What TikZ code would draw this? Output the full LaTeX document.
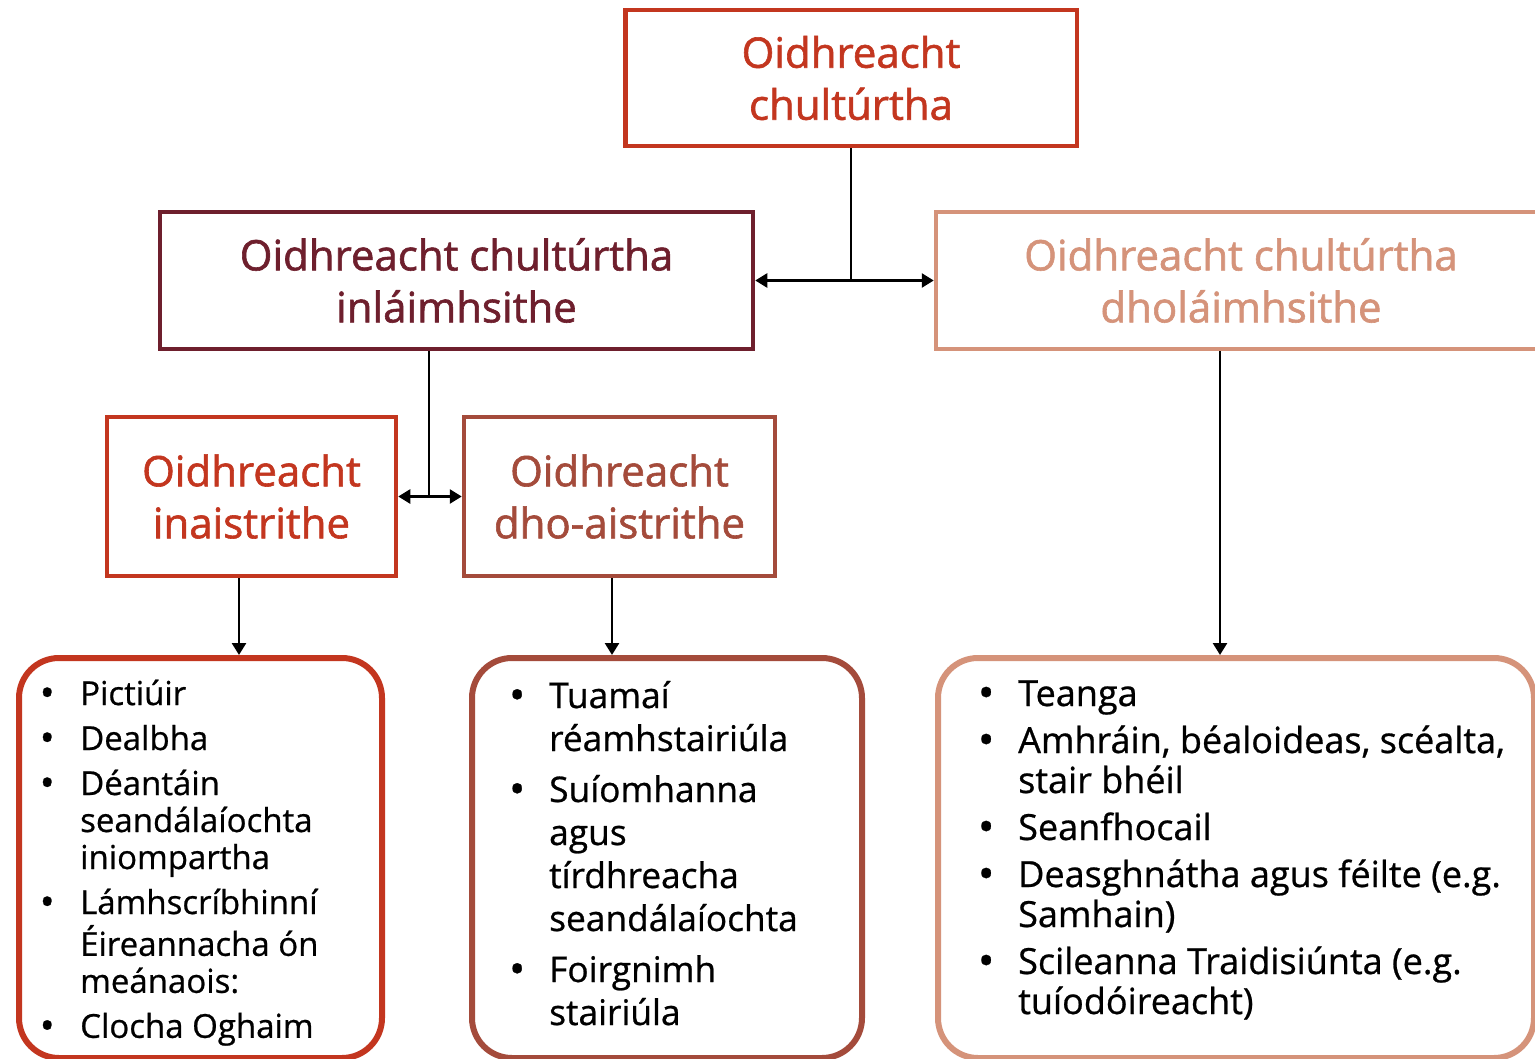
\documentclass[tikz,border=0pt]{standalone}
\usepackage{fontspec}
\usepackage{graphicx}
\setmainfont{Open Sans}
\newfontfamily\headfont{Open Sans}[FakeBold=1.4]
\newfontfamily\bodyfont{Open Sans}[FakeBold=0.7]
\usetikzlibrary{arrows.meta}
\definecolor{cred}{HTML}{C3361F}
\definecolor{cmaroon}{HTML}{6E1F2D}
\definecolor{csalmon}{HTML}{D5937A}
\definecolor{cbrown}{HTML}{A44B3B}
\newcommand\mybul{\makebox[0pt]{\raisebox{-0.05em}{\scalebox{1.2}{\textbullet}}}}
\begin{document}
\begin{tikzpicture}[x=1pt,y=-1pt,
  headbox/.style={draw=#1, text=#1, line width=4.5pt, rectangle, inner sep=0pt,
    align=center, font=\headfont\fontsize{42}{52}\selectfont},
  listbox/.style={draw=#1, line width=6pt, rounded corners=40pt, rectangle, inner sep=0pt},
  listtext/.style={anchor=base west, inner sep=0pt, text=black},
  conn/.style={line width=2.6pt, black},
  tip/.style={-{Triangle[length=12pt,width=14pt]}},
  bothtips/.style={{Triangle[length=12pt,width=14pt]}-{Triangle[length=12pt,width=14pt]}}]
\useasboundingbox (0,0) rectangle (1535,1059);
\fill[white] (0,0) rectangle (1535,1059);

\node[headbox=cred, minimum width=451.5pt, minimum height=136pt] (top) at (851,78) {Oidhreacht\\chultúrtha};
\node[headbox=cmaroon, minimum width=593pt, minimum height=137pt] (midL) at (456.5,280.5) {Oidhreacht chultúrtha\\inláimhsithe};
\node[headbox=csalmon, minimum width=610pt, minimum height=137pt] (midR) at (1241,280.5) {Oidhreacht chultúrtha\\dholáimhsithe};
\node[headbox=cred, minimum width=289pt, minimum height=159pt] (ina) at (251.5,496.5) {Oidhreacht\\inaistrithe};
\node[headbox=cbrown, minimum width=311pt, minimum height=159pt] (dho) at (619.5,496.5) {Oidhreacht\\dho-aistrithe};

\node[listbox=cred, minimum width=363pt, minimum height=400pt] (bl) at (200.5,858) {};
\node[listbox=cbrown, minimum width=390pt, minimum height=400pt] (bm) at (667,858) {};
\node[listbox=csalmon, minimum width=596pt, minimum height=400pt] (br) at (1236,858) {};

\node[listtext, font=\bodyfont\fontsize{33}{37}\selectfont] (ll) at (47,705) {\begin{tabular}[t]{@{}p{33pt}@{}l@{}}
\mybul & Pictiúir\\[8pt]
\mybul & Dealbha\\[8pt]
\mybul & Déantáin\\
 & seandálaíochta\\
 & iniompartha\\[8pt]
\mybul & Lámhscríbhinní\\
 & Éireannacha ón\\
 & meánaois:\\[8pt]
\mybul & Clocha Oghaim
\end{tabular}};

\node[listtext, font=\bodyfont\fontsize{35.3}{43}\selectfont] (ml) at (517,708) {\begin{tabular}[t]{@{}p{32pt}@{}l@{}}
\mybul & Tuamaí\\
 & réamhstairiúla\\[8pt]
\mybul & Suíomhanna\\
 & agus\\
 & tírdhreacha\\
 & seandálaíochta\\[8pt]
\mybul & Foirgnimh\\
 & stairiúla
\end{tabular}};

\node[listtext, font=\bodyfont\fontsize{36}{40}\selectfont] (rl) at (986,706) {\begin{tabular}[t]{@{}p{32pt}@{}l@{}}
\mybul & Teanga\\[7pt]
\mybul & Amhráin, béaloideas, scéalta,\\
 & stair bhéil\\[7pt]
\mybul & Seanfhocail\\[7pt]
\mybul & Deasghnátha agus féilte (e.g.\\
 & Samhain)\\[7pt]
\mybul & Scileanna Traidisiúnta (e.g.\\
 & tuíodóireacht)
\end{tabular}};

\draw[conn] (top.south) -- (top.south |- midL.east);
\draw[conn, bothtips] (midL.east) -- (midR.west);
\draw[conn] ([xshift=-27.5pt]midL.south) coordinate (a) -- (a |- ina.east);
\draw[conn, bothtips] (ina.east) -- (dho.west);
\draw[conn, tip] ([xshift=-12.5pt]ina.south) coordinate (b) -- (b |- bl.north);
\draw[conn, tip] ([xshift=-7.5pt]dho.south) coordinate (c) -- (c |- bm.north);
\draw[conn, tip] ([xshift=-21pt]midR.south) coordinate (d) -- (d |- br.north);
\end{tikzpicture}
\end{document}
